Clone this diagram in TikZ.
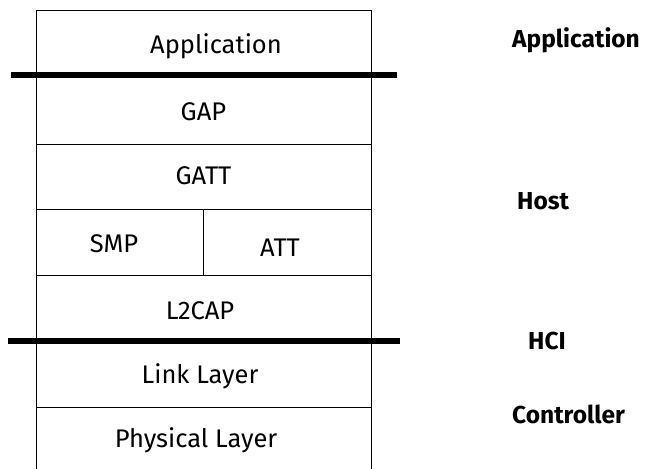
\documentclass[tikz,border=0pt]{standalone}
\usepackage{fontspec}
\setmainfont{Fira Sans}
\begin{document}
\begin{tikzpicture}[x=1pt,y=-1pt,
  cell/.style={draw, line width=1.3pt, rectangle, anchor=north west, inner sep=0pt, minimum width=#1},
  cell/.default=335pt,
  celltext/.style={font=\fontsize{25.5}{30}\selectfont},
  side/.style={font=\bfseries\fontsize{24.5}{30}\selectfont, anchor=west, inner sep=0pt},
  thick line/.style={line width=6pt}]
\useasboundingbox (0,0) rectangle (660,468);
\clip (0,0) rectangle (660,468);
\node[cell, minimum height=66pt] (app) at (36,10) {};
\node[cell, minimum height=68pt] (gap) at (36,76) {};
\node[cell, minimum height=65pt] (gatt) at (36,144) {};
\node[cell=167pt, minimum height=66pt] (smp) at (36,209) {};
\node[cell=168pt, minimum height=66pt] (att) at (203,209) {};
\node[cell, minimum height=66pt] (l2cap) at (36,275) {};
\node[cell, minimum height=66pt] (link) at (36,341) {};
\node[cell, minimum height=80pt] (phys) at (36,407) {};
\node[celltext] (tapp) at (216,46) {Application};
\node[celltext] (tgap) at (203.5,112) {GAP};
\node[celltext] (tgatt) at (203.5,176) {GATT};
\node[celltext] (tsmp) at (114,244) {SMP};
\node[celltext] (tatt) at (280,248) {ATT};
\node[celltext] (tl2) at (200,311) {L2CAP};
\node[celltext] (tlink) at (200,376) {Link Layer};
\node[celltext] (tphys) at (196,440) {Physical Layer};
\coordinate (a1) at (11,75);
\coordinate (a2) at (397,75);
\coordinate (h1) at (8,341);
\coordinate (h2) at (400,341);
\draw[thick line] (a1) -- (a2);
\draw[thick line] (h1) -- (h2);
\node[side] (lapp) at (512,40) {Application};
\node[side] (lhost) at (517,201) {Host};
\node[side] (lhci) at (528,341) {HCI};
\node[side] (lctrl) at (512,414) {Controller};
\end{tikzpicture}
\end{document}
